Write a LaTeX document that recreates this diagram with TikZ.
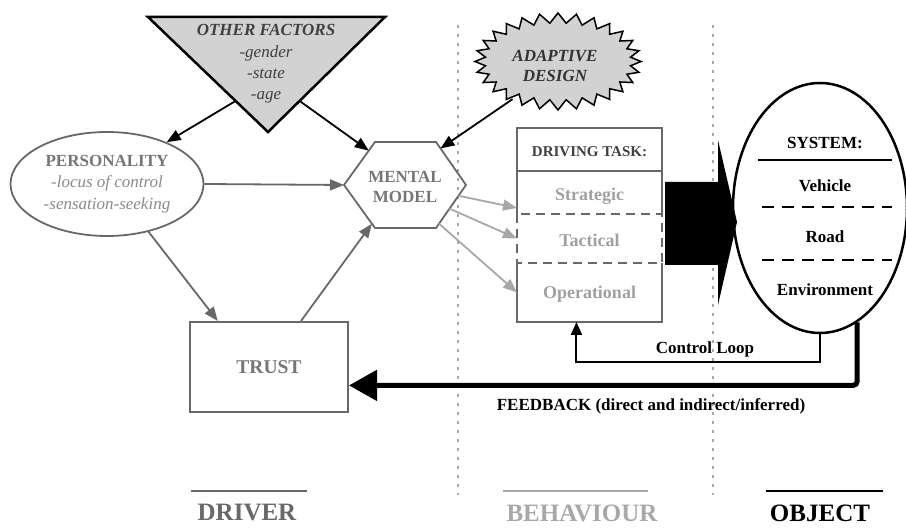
\documentclass[tikz,border=0pt]{standalone}
\usepackage{fontspec}
\setmainfont{Liberation Serif}
\usetikzlibrary{shapes.geometric, shapes.symbols, arrows.meta, positioning, calc}

\definecolor{drvgray}{HTML}{686868}
\definecolor{behgray}{HTML}{A8A8A8}
\definecolor{txtgray}{HTML}{767676}
\definecolor{softgray}{HTML}{8A8A8A}
\definecolor{fillgray}{HTML}{D2D2D2}

\begin{document}
\begin{tikzpicture}[
        x=1pt, y=1pt,
        txt/.style={font=\fontsize{17}{21.5}\selectfont, align=center, inner sep=0pt},
        bold/.style={txt, font=\fontsize{17}{21.5}\selectfont\bfseries},
        person/.style={ellipse, draw=drvgray, line width=1.8pt, minimum width=193pt, minimum height=104pt, txt, text=txtgray},
        trustbox/.style={rectangle, draw=drvgray, line width=2pt, minimum width=158pt, minimum height=90pt, bold, font=\fontsize{19.5}{22}\selectfont\bfseries, text=txtgray},
        taskhead/.style={rectangle, minimum width=145pt, minimum height=43pt, outer sep=0pt, bold, font=\fontsize{15}{18}\selectfont\bfseries, text=black!75, text height=15pt, text depth=0pt},
        tasklevel/.style={rectangle, minimum width=145pt, outer sep=0pt, bold, font=\fontsize{18}{21}\selectfont\bfseries, text=behgray!95!black, text height=17pt, text depth=0pt},
        taskline/.style={line width=1.8pt, drvgray},
        sysellipse/.style={ellipse, draw, line width=2.5pt, minimum width=174pt, minimum height=250pt},
        grouplabel/.style={font=\fontsize{25}{28}\selectfont\bfseries, inner sep=0pt},
        divider/.style={behgray, line width=1.5pt, dash pattern=on 3pt off 6pt},
        arrow/.style={line width=1.8pt, -{Triangle[length=14pt, width=11pt]}},
        grayarrow/.style={arrow, drvgray},
        behaviourarrow/.style={arrow, behgray},
        loopline/.style={line width=2pt, -{Triangle[length=13pt, width=11pt]}},
        feedback/.style={line width=5pt, rounded corners=4pt, -{Triangle[length=28pt, width=30pt]}}
    ]
        \useasboundingbox (0,0) rectangle (906,530);

        % Regions
        \draw[divider] (458,505) -- (458,35);
        \draw[divider] (713,505) -- (713,35);

        % Nodes
        \coordinate (ftl) at (148,513);
        \coordinate (ftr) at (385,513);
        \coordinate (fapex) at (268,398);
        \filldraw[fill=fillgray, line width=2.5pt, line join=miter] (ftl) -- (ftr) -- (fapex) -- cycle;
        \node (factors) [txt, font=\fontsize{17}{21.3}\selectfont\itshape, text=black!75] at (266,466) {\textbf{OTHER FACTORS}\\-gender\\-state\\-age};

        % starburst round the adaptive design text
        \filldraw[fill=fillgray, line width=1.5pt, line join=miter] (641,468.5)
            \foreach \k in {1,...,55} {-- ({558+(83-10*mod(\k,2))*cos(\k/56*360)}, {468.5+(48.5-10*mod(\k,2))*sin(\k/56*360)})} -- cycle;
        \node (adaptive) [ellipse, minimum width=150pt, minimum height=80pt, bold, font=\fontsize{17}{20}\selectfont\bfseries\itshape, text=black!80] at (555,464) {ADAPTIVE\\DESIGN};

        \node (person) [person] at (107,346) {\textbf{PERSONALITY}\\\textcolor{softgray}{\textit{-locus of control}}\\\textcolor{softgray}{\textit{-sensation-seeking}}};

        \coordinate (mw) at (344,345);
        \coordinate (mnw) at (375,388);
        \coordinate (mne) at (436,388);
        \coordinate (me) at (466,345);
        \coordinate (mse) at (436,302);
        \coordinate (msw) at (375,302);
        \draw[taskline] (mw) -- (mnw) -- (mne) -- (me) -- (mse) -- (msw) -- cycle;
        \node (mental) [bold, font=\fontsize{17}{20}\selectfont\bfseries, text=txtgray] at (405,343) {MENTAL\\MODEL};

        \node (trust) [trustbox] at (269,163) {TRUST};

        \node (task) [taskhead] at (589.5,380.5) {DRIVING TASK:};
        \node (strat) [tasklevel, below=0pt of task, minimum height=43pt] {Strategic};
        \node (tact) [tasklevel, below=0pt of strat, minimum height=49pt] {Tactical};
        \node (oper) [tasklevel, below=0pt of tact, minimum height=59pt, text height=13pt] {Operational};
        \draw[taskline] (strat.south west) |- (task.north east) -- (strat.south east);
        \draw[taskline] (task.south west) -- (task.south east);
        \draw[taskline] (tact.south west) |- (oper.south east) -- (tact.south east);
        \draw[taskline, dash pattern=on 9pt off 6pt] (tact.north west) rectangle (tact.south east);

        \node (system) [sysellipse] at (820,322) {};
        \node (sysname) [bold] at (825,387) {SYSTEM:};
        \node (vehicle) [bold] at (825,344) {Vehicle};
        \node (road) [bold] at (825,293) {Road};
        \node (environment) [bold] at (825,240) {Environment};
        \draw[line width=2pt] (758,370) -- (892,370);
        \draw[line width=2pt, dash pattern=on 12pt off 8pt] (762,323) -- (892,323);
        \draw[line width=2pt, dash pattern=on 12pt off 8pt] (762,270) -- (892,270);

        \node (driver) [grouplabel, text=drvgray] at (247,17) {DRIVER};
        \node (behaviour) [grouplabel, text=behgray] at (582,17) {BEHAVIOUR};
        \node (object) [grouplabel] at (820,17) {OBJECT};
        \draw[drvgray, line width=2.5pt] (191,39) -- (307,39);
        \draw[behgray, line width=2.5pt] (503,39) -- (648,39);
        \draw[line width=2.5pt] (766,39) -- (883,39);

        % Arrows
        \draw[arrow] ($(ftl)!0.73!(fapex)$) -- (person.35);
        \draw[arrow] ($(ftr)!0.73!(fapex)$) -- ($(mw)!0.8!(mnw)$);
        \draw[arrow] (adaptive.218) -- ($(mne)!0.15!(me)$);
        \draw[grayarrow] (person.east) -- (mw);
        \draw[grayarrow] (person.-49) -- ($(trust.north west)!0.18!(trust.north east)$);
        \draw[grayarrow] ($(trust.north west)!0.7!(trust.north east)$) -- ($(mw)!0.9!(msw)$);
        \draw[behaviourarrow] ($(me)!0.25!(mse)$) -- ($(strat.south west)!0.14!(strat.north west)$);
        \draw[behaviourarrow] ($(me)!0.55!(mse)$) -- (tact.west);
        \draw[behaviourarrow] ($(me)!0.9!(mse)$) -- (oper.west);

        \fill (665,348) -- (718,348) -- (718,390) -- (737,308) -- (718,225) -- (718,265) -- (665,265) -- cycle;

        \draw[loopline] (system.south) -- ++(0,-28) -| ($(oper.south west)!0.41!(oper.south east)$);
        \node (looplabel) [bold] at (705,181) {Control Loop};
        \draw[feedback] (system.-72) |- ($(trust.south east)!0.3!(trust.north east)$);
        \node (feedlabel) [bold] at (651,124) {FEEDBACK (direct and indirect/inferred)};
    \end{tikzpicture}
\end{document}
